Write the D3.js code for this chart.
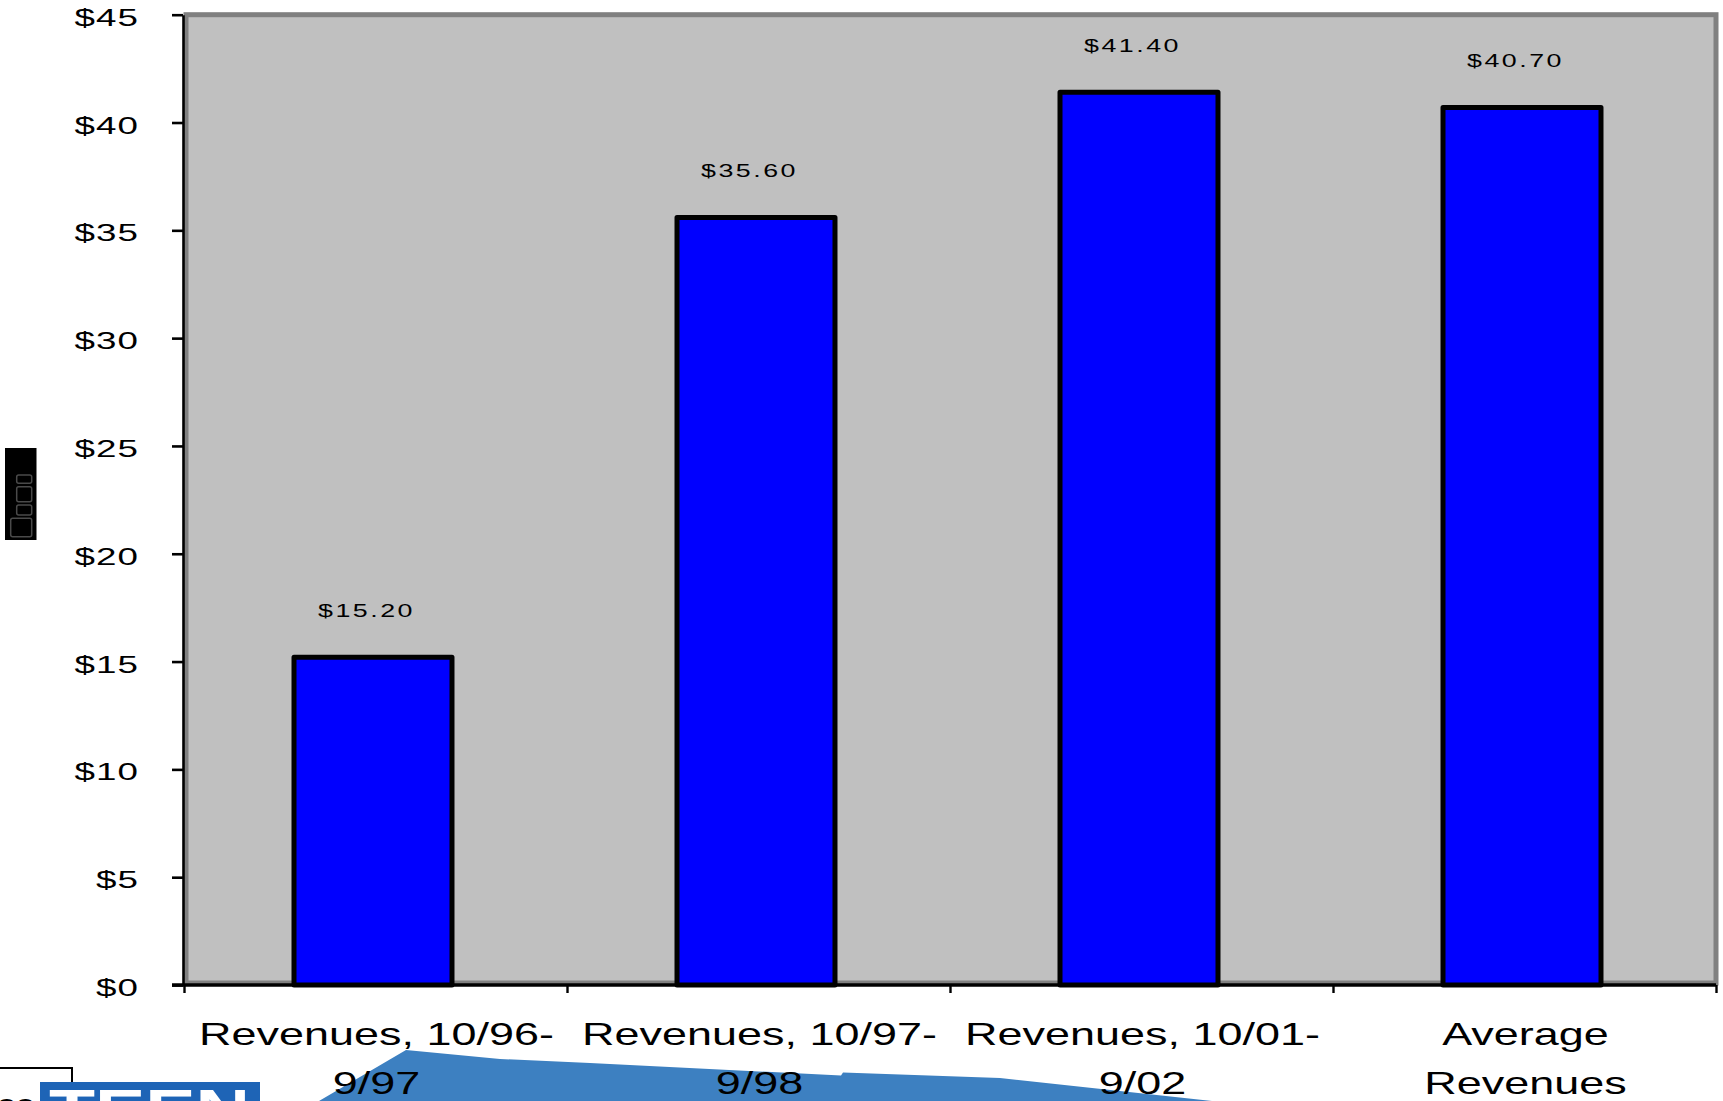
<!DOCTYPE html>
<html>
<head>
<meta charset="utf-8">
<script src="https://cdn.jsdelivr.net/npm/d3@7"></script>
<style>
  html, body { margin: 0; padding: 0; background: #fff; }
  svg { display: block; }
  text { font-family: "Liberation Sans", Arial, sans-serif; fill: #000; }
</style>
</head>
<body>
<script>
// ---------- data ----------
const categories = ["Revenues, 10/96-\n9/97", "Revenues, 10/97-\n9/98", "Revenues, 10/01-\n9/02", "Average\nRevenues"];
const values = [15.20, 35.60, 41.40, 40.70];
const valueLabels = ["$15.20", "$35.60", "$41.40", "$40.70"];
const yTicks = [0, 5, 10, 15, 20, 25, 30, 35, 40, 45];
const yTickLabels = ["$0", "$5", "$10", "$15", "$20", "$25", "$30", "$35", "$40", "$45"];

// ---------- layout ----------
const W = 1723, H = 1101;
const plotL = 184, plotR = 1716, plotT = 14.7, plotB = 985;
const SX = 1.45; // horizontal glyph stretch seen in the reference

const svg = d3.select("body").append("svg").attr("width", W).attr("height", H);

const y = d3.scaleLinear().domain([0, 45]).range([plotB, plotT]);
const xb = d3.scaleBand().domain(d3.range(categories.length)).range([plotL, plotR])
  .paddingInner(0.5875).paddingOuter(0.29375);
const xEdge = d3.scaleLinear().domain([0, categories.length]).range([plotL, plotR]);
const step = xb.step();

// ---------- background decoration (slide artwork peeking through) ----------
svg.append("path")
  .attr("d", "M319,1101 L406,1050 L500,1059 L590,1063 L841,1075.5 L843,1072.5 L1000,1078 L1212,1101 Z")
  .attr("fill", "#3d80c1");
svg.append("path").attr("d", "M0,1068 L72,1068 L72,1084").attr("fill", "none")
  .attr("stroke", "#000").attr("stroke-width", 2);
svg.append("text").attr("transform", "translate(-3,1113) scale(1.3,1)")
  .attr("font-size", 26).attr("font-weight", "bold").text("ee");
svg.append("rect").attr("x", 40).attr("y", 1082).attr("width", 220).attr("height", 19).attr("fill", "#1e64b6");
svg.append("text").attr("transform", "translate(49,1130) scale(1.3,1)")
  .attr("font-size", 58).attr("font-weight", "bold").style("fill", "#fff").text("TEEN");

// ---------- plot area ----------
svg.append("rect")
  .attr("x", 186).attr("y", plotT).attr("width", plotR - 186).attr("height", 983 - plotT)
  .attr("fill", "#c0c0c0").attr("stroke", "#808080").attr("stroke-width", 5);

// ---------- bars ----------
svg.append("g").selectAll("rect").data(values).join("rect")
  .attr("x", (d, i) => xb(i) - 2.5)
  .attr("y", d => y(d))
  .attr("width", xb.bandwidth())
  .attr("height", d => y(0) - y(d))
  .attr("fill", "#0000ff")
  .attr("stroke", "#000").attr("stroke-width", 5).attr("stroke-linejoin", "round");

// value labels
svg.append("g").selectAll("text").data(values).join("text")
  .attr("transform", (d, i) => `translate(${xb(i) + xb.bandwidth() / 2 - 9},${y(d) - 40}) scale(${SX},1)`)
  .attr("text-anchor", "middle")
  .attr("font-size", 18.5)
  .attr("letter-spacing", 1.7)
  .text((d, i) => valueLabels[i]);

// ---------- y axis ----------
const yAxis = svg.append("g").attr("transform", `translate(${plotL - 1},0)`)
  .call(d3.axisLeft(y).tickValues(yTicks).tickSize(11).tickSizeOuter(0).tickFormat(""));
yAxis.select(".domain").attr("stroke", "#000").attr("stroke-width", 2.6);
yAxis.selectAll(".tick line").attr("stroke", "#000").attr("stroke-width", 2.6);

svg.append("g").selectAll("text").data(yTicks).join("text")
  .attr("transform", d => `translate(139,${y(d) + 11}) scale(1.5,1)`)
  .attr("text-anchor", "end")
  .attr("font-size", 24.5)
  .attr("letter-spacing", 0.7)
  .text((d, i) => yTickLabels[i]);

// ---------- x axis ----------
const xAxis = svg.append("g").attr("transform", `translate(0,${plotB})`)
  .call(d3.axisBottom(xEdge).tickValues(d3.range(categories.length + 1)).tickSize(8).tickSizeOuter(0).tickFormat(""));
xAxis.select(".domain").remove();
xAxis.selectAll(".tick line").attr("stroke", "#000").attr("stroke-width", 2.4);
svg.append("line").attr("x1", 172).attr("x2", plotR).attr("y1", plotB).attr("y2", plotB)
  .attr("stroke", "#000").attr("stroke-width", 3.4);

// category labels
const cat = svg.append("g").selectAll("g").data(categories).join("g");
cat.each(function (c, i) {
  const lines = c.split("\n");
  const cx = xEdge(i) + step / 2 + 1;
  d3.select(this).selectAll("text").data(lines).join("text")
    .attr("transform", (l, j) => `translate(${cx},${1045 + j * 49}) scale(1.45,1)`)
    .attr("text-anchor", "middle")
    .attr("font-size", 31)
    .text(l => l);
});

// ---------- y axis title (rendered as missing-glyph boxes in the reference) ----------
const ttl = svg.append("g");
ttl.append("rect").attr("x", 5).attr("y", 448).attr("width", 31.5).attr("height", 92).attr("fill", "#000");
const boxes = [[16.7, 475, 15, 8.3], [16.7, 486.7, 15, 15], [16.7, 505, 15, 10], [10.7, 518.3, 21, 18.4]];
ttl.selectAll("rect.g").data(boxes).join("rect").attr("class", "g")
  .attr("x", d => d[0]).attr("y", d => d[1]).attr("width", d => d[2]).attr("height", d => d[3])
  .attr("rx", 2).attr("fill", "none").attr("stroke", "#4a4a4a").attr("stroke-width", 1.5);
</script>
</body>
</html>
